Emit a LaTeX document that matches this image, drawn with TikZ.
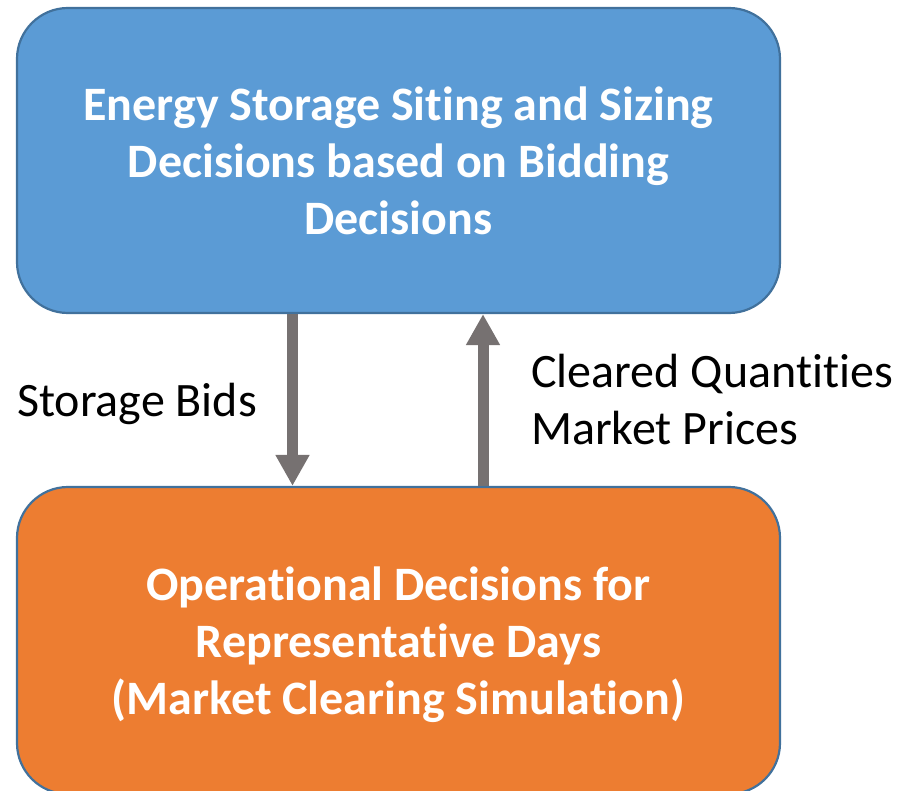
\documentclass[tikz,border=0pt]{standalone}
\usepackage{fontspec}
\setmainfont{Carlito}[Ligatures=NoCommon]
\usetikzlibrary{arrows.meta}
\definecolor{boxblue}{HTML}{5B9BD5}
\definecolor{boxorange}{HTML}{ED7D31}
\definecolor{edgeblue}{HTML}{41719C}
\definecolor{arrowgray}{HTML}{767171}
\tikzset{
  stage/.style={draw=edgeblue, line width=2.2pt, rounded corners=51pt,
    minimum width=763pt, inner sep=0pt, align=center, text=white,
    font=\fontsize{48}{57}\selectfont\bfseries},
  flow/.style={arrowgray, line width=11pt,
    -{Triangle[length=31pt, width=32pt]}},
  tag/.style={anchor=base west, inner sep=0pt, align=left,
    font=\fontsize{48}{57}\selectfont}
}
\begin{document}
\begin{tikzpicture}[x=1pt, y=-1pt]
  \useasboundingbox (0,0) rectangle (907,791);
  % upper stage: planning
  \node[stage, fill=boxblue, minimum height=305pt] (plan) at (398.5,160.5)
    {Energy Storage Siting and Sizing\\Decisions based on Bidding\\Decisions};
  % lower stage: operation (text set slightly below the centre)
  \node[stage, fill=boxorange, minimum height=307pt] (oper) at (398.5,640.5)
    {\raisebox{-4.5pt}[\height][\depth]{\parbox{700pt}{\centering Operational Decisions for\\Representative Days\\(Market Clearing Simulation)}}};
  % information exchanged between the two stages
  \coordinate (dnx) at (292.5,0);
  \coordinate (upx) at (483,0);
  \draw[flow] (plan.south -| dnx) -- (oper.north -| dnx);
  \draw[flow] (oper.north -| upx) -- (plan.south -| upx);
  \node[tag] (bids) at (17,416) {Storage Bids};
  \node[tag] (prices) at (531,444) {Cleared Quantities\\Market Prices};
\end{tikzpicture}
\end{document}
